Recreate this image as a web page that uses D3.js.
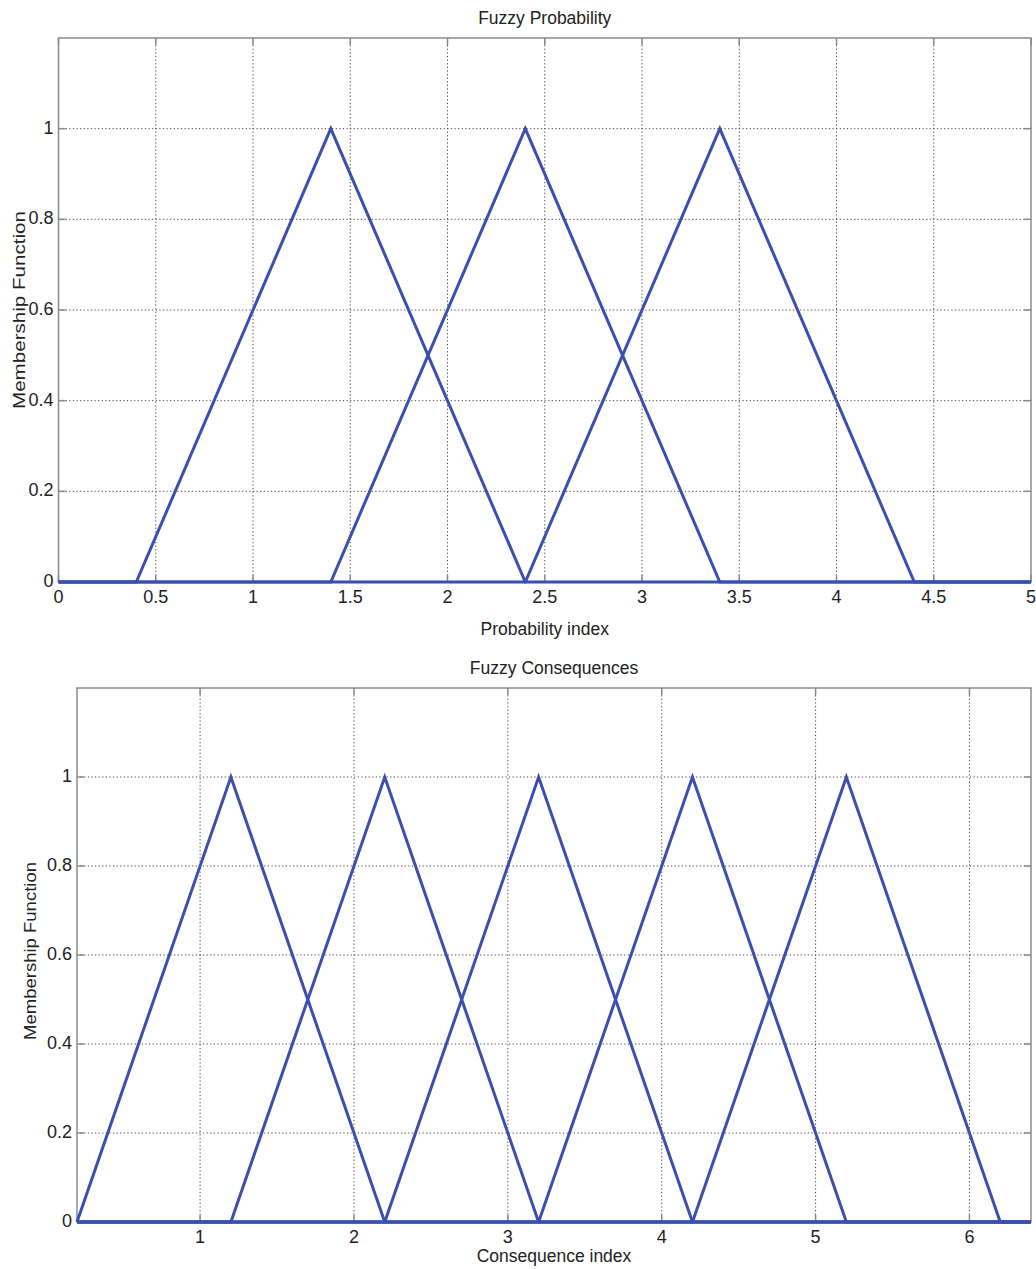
<!DOCTYPE html>
<html>
<head>
<style>
  body { margin: 0; background: #fff; font-family: "Liberation Sans", Arial, sans-serif; }
  .grid line { stroke: #444; stroke-width: 1; stroke-dasharray: 1.2, 2.4; }
  .frame { fill: none; stroke: #8a8a8a; stroke-width: 1.5; }
  .tickmark { stroke: #8a8a8a; stroke-width: 1.5; }
  .ticklabel { font-size: 18px; fill: #222; }
  .title { font-size: 17.5px; fill: #222; }
  .ylab { font-size: 16.5px; fill: #222; }
  .mf { fill: none; stroke: #3a4fae; stroke-width: 3; stroke-linejoin: miter; }
</style>
</head>
<body>
<svg id="chart" width="1036" height="1269"></svg>
<script src="https://d3js.org/d3.v7.min.js"></script>
<script>
// top chart: Fuzzy Probability
var probDomain = [0, 5];
var probTicks = [0, 0.5, 1, 1.5, 2, 2.5, 3, 3.5, 4, 4.5, 5];
var probMF = [[0.4, 1.4, 2.4], [1.4, 2.4, 3.4], [2.4, 3.4, 4.4]];

// bottom chart: Fuzzy Consequences
var consDomain = [0.2, 6.4];
var consTicks = [1, 2, 3, 4, 5, 6];
var consMF = [[0.2, 1.2, 2.2], [1.2, 2.2, 3.2], [2.2, 3.2, 4.2], [3.2, 4.2, 5.2], [4.2, 5.2, 6.2]];

var yDomain = [0, 1.2];
var yTicks = [0, 0.2, 0.4, 0.6, 0.8, 1];

var svg = d3.select("#chart");

function drawPanel(opt) {
    var x = d3.scaleLinear().domain(opt.xDomain).range([opt.left, opt.right]);
    var y = d3.scaleLinear().domain(yDomain).range([opt.bottom, opt.top]);
    var g = svg.append("g");

    // dotted grid
    var grid = g.append("g").attr("class", "grid");
    grid.selectAll("line.v").data(opt.xTicks.filter(function (d) { return d > opt.xDomain[0] && d < opt.xDomain[1]; }))
        .enter().append("line")
        .attr("x1", function (d) { return x(d); }).attr("x2", function (d) { return x(d); })
        .attr("y1", opt.top).attr("y2", opt.bottom);
    grid.selectAll("line.h").data(yTicks.filter(function (d) { return d > 0; }))
        .enter().append("line")
        .attr("x1", opt.left).attr("x2", opt.right)
        .attr("y1", function (d) { return y(d); }).attr("y2", function (d) { return y(d); });

    // inward tick marks on all four sides
    var tl = 7;
    opt.xTicks.forEach(function (d) {
        g.append("line").attr("class", "tickmark").attr("x1", x(d)).attr("x2", x(d)).attr("y1", opt.bottom).attr("y2", opt.bottom - tl);
        g.append("line").attr("class", "tickmark").attr("x1", x(d)).attr("x2", x(d)).attr("y1", opt.top).attr("y2", opt.top + tl);
    });
    yTicks.forEach(function (d) {
        g.append("line").attr("class", "tickmark").attr("x1", opt.left).attr("x2", opt.left + tl).attr("y1", y(d)).attr("y2", y(d));
        g.append("line").attr("class", "tickmark").attr("x1", opt.right).attr("x2", opt.right - tl).attr("y1", y(d)).attr("y2", y(d));
    });

    g.append("rect").attr("class", "frame")
        .attr("x", opt.left).attr("y", opt.top)
        .attr("width", opt.right - opt.left).attr("height", opt.bottom - opt.top);

    // tick labels
    g.selectAll("text.xt").data(opt.xTicks).enter().append("text")
        .attr("class", "ticklabel")
        .attr("x", function (d) { return x(d); })
        .attr("y", opt.bottom + 21)
        .attr("text-anchor", "middle")
        .text(function (d) { return d; });
    g.selectAll("text.yt").data(yTicks).enter().append("text")
        .attr("class", "ticklabel")
        .attr("x", opt.left - 5)
        .attr("y", function (d) { return y(d) + 5; })
        .attr("text-anchor", "end")
        .text(function (d) { return d; });

    // membership functions
    var line = d3.line().x(function (d) { return x(d[0]); }).y(function (d) { return y(d[1]); });
    opt.mfs.forEach(function (p) {
        var pts = [[opt.xDomain[0], 0], [p[0], 0], [p[1], 1], [p[2], 0], [opt.xDomain[1], 0]];
        g.append("path").attr("class", "mf").attr("d", line(pts));
    });

    // titles
    g.append("text").attr("class", "title")
        .attr("x", (opt.left + opt.right) / 2).attr("y", opt.top - 14)
        .attr("text-anchor", "middle").text(opt.title);
    g.append("text").attr("class", "title")
        .attr("x", (opt.left + opt.right) / 2).attr("y", opt.xLabelY)
        .attr("text-anchor", "middle").text(opt.xLabel);
    g.append("text").attr("class", "ylab")
        .attr("transform", "translate(" + opt.yLabelX + "," + opt.yLabelY + ") rotate(-90)")
        .attr("text-anchor", "middle")
        .attr("textLength", opt.yLabelLen).attr("lengthAdjust", "spacingAndGlyphs")
        .text("Membership Function");
}

drawPanel({
    left: 58.5, right: 1031, top: 38, bottom: 582,
    xDomain: probDomain, xTicks: probTicks, mfs: probMF,
    title: "Fuzzy Probability", xLabel: "Probability index",
    xLabelY: 635, yLabelX: 25, yLabelY: 310, yLabelLen: 198
});

drawPanel({
    left: 77, right: 1031, top: 688, bottom: 1222,
    xDomain: consDomain, xTicks: consTicks, mfs: consMF,
    title: "Fuzzy Consequences", xLabel: "Consequence index",
    xLabelY: 1262, yLabelX: 36, yLabelY: 951, yLabelLen: 178
});
</script>
</body>
</html>
